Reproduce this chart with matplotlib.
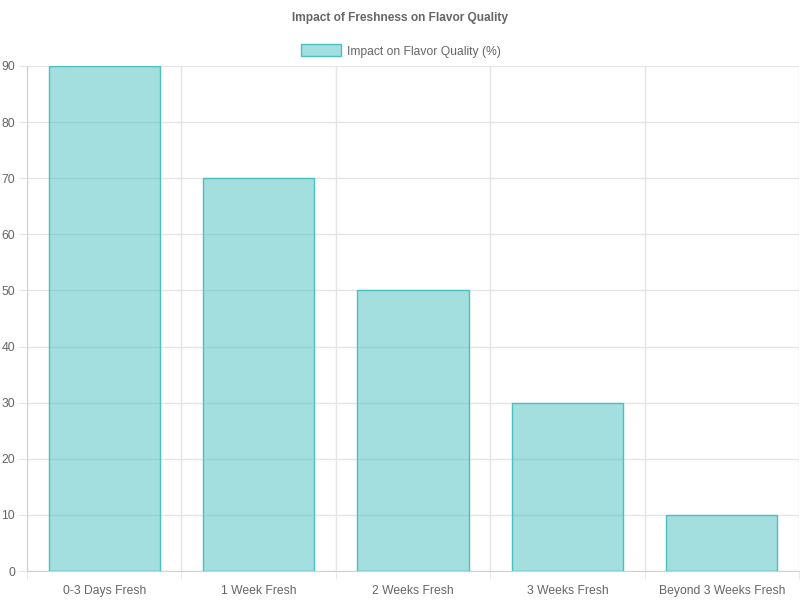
import matplotlib
matplotlib.use("Agg")
from matplotlib import pyplot as plt
from matplotlib.patches import Rectangle

categories = ["0-3 Days Fresh", "1 Week Fresh", "2 Weeks Fresh", "3 Weeks Fresh", "Beyond 3 Weeks Fresh"]
impact = [90, 70, 50, 30, 10]
y_ticks = [0, 10, 20, 30, 40, 50, 60, 70, 80, 90]

plt.rcParams['font.family'] = ['Liberation Sans', 'DejaVu Sans']
text_color = '#666666'
grid_color = '#e5e5e5'
fill = (75 / 255, 192 / 255, 192 / 255, 0.5)
edge = (75 / 255, 192 / 255, 192 / 255, 1.0)

fig = plt.figure(figsize=(8, 6), dpi=100)
ax = fig.add_axes([27 / 800, 29 / 600, 772 / 800, 505 / 600])

x = list(range(len(categories)))
ax.bar(x, impact, width=0.72, color=fill, edgecolor=edge, linewidth=1, zorder=3)

ax.set_xlim(-0.5, len(categories) - 0.5)
ax.set_ylim(0, 90)
ax.set_yticks(y_ticks)
ax.set_xticks(x)
ax.set_xticklabels(categories)

# vertical grid lines sit between categories (Chart.js style)
ax.set_xticks([i - 0.5 for i in range(len(categories) + 1)], minor=True)
ax.grid(True, which='minor', axis='x', color=grid_color, linewidth=1, zorder=0)
ax.grid(True, which='major', axis='y', color=grid_color, linewidth=1, zorder=0)
ax.tick_params(axis='x', which='major', length=0, pad=10, labelsize=8.7, labelcolor=text_color)
ax.tick_params(axis='x', which='minor', length=5.5, color=grid_color)
ax.tick_params(axis='y', length=5.5, color=grid_color, pad=3, labelsize=8.7, labelcolor=text_color)

for side in ['top', 'right']:
    ax.spines[side].set_visible(False)
for side in ['left', 'bottom']:
    ax.spines[side].set_color('#d0d0d0')

fig.text(0.5, 1 - 18.5 / 600, "Impact of Freshness on Flavor Quality", ha='center', va='center',
         fontsize=8.6, fontweight='bold', color=text_color)

# legend
fig.patches.append(Rectangle((301 / 800, 1 - 56 / 600), 40 / 800, 12 / 600, transform=fig.transFigure,
                             facecolor=fill, edgecolor=edge, linewidth=1))
fig.text(347 / 800, 1 - 51.5 / 600, "Impact on Flavor Quality (%)", ha='left', va='center',
         fontsize=8.7, color=text_color)

fig.savefig("out.png", dpi=100)
